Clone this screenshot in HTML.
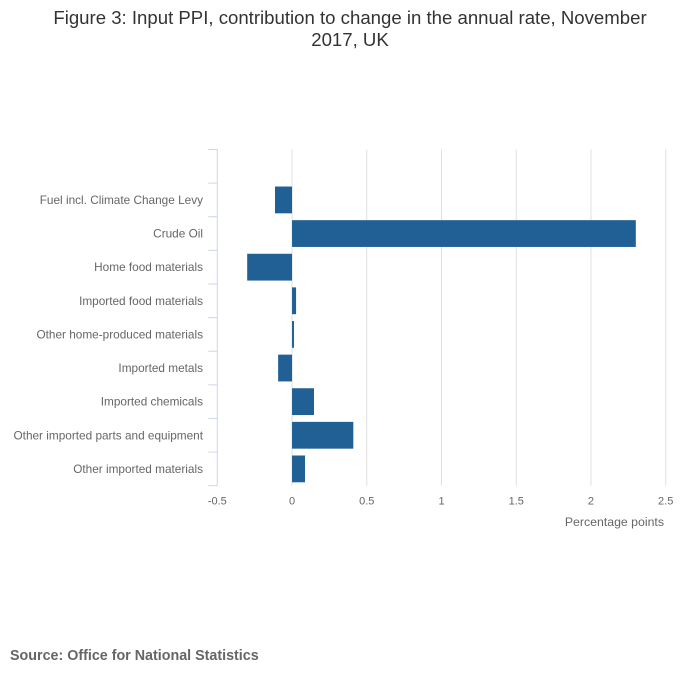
<!DOCTYPE html>
<html><head><meta charset="utf-8"><style>
body{margin:0;background:#fff;font-family:"Liberation Sans",sans-serif;}
</style></head><body>
<svg width="700" height="682" xmlns="http://www.w3.org/2000/svg" font-family="Liberation Sans, sans-serif">
<text x="350" y="24" text-anchor="middle" font-size="18.6" fill="#333">Figure 3: Input PPI, contribution to change in the annual rate, November</text>
<text x="350" y="46" text-anchor="middle" font-size="18.6" fill="#333">2017, UK</text>
<g id="grid"></g><g id="bars"></g><g id="axes"></g>
<text x="664" y="526" text-anchor="end" font-size="12.3" fill="#666">Percentage points</text>
<text x="10" y="660" font-size="14.3" font-weight="bold" fill="#666">Source: Office for National Statistics</text>
</svg>
<script>
const categories=["","Fuel incl. Climate Change Levy","Crude Oil","Home food materials","Imported food materials","Other home-produced materials","Imported metals","Imported chemicals","Other imported parts and equipment","Other imported materials"];
const values=[null,-0.114,2.30,-0.30,0.027,0.013,-0.093,0.147,0.41,0.087];
const xTicks=[-0.5,0,0.5,1,1.5,2,2.5];
const xTickLabels=["-0.5","0","0.5","1","1.5","2","2.5"];
const NS="http://www.w3.org/2000/svg";
const x0=217.3,x1=665.7,yTop=149.5,yBot=485.7;
const xs=v=>x0+(v-(-0.5))/3*(x1-x0);
const band=(yBot-yTop)/categories.length;
function mk(t,a,p){const e=document.createElementNS(NS,t);for(const k in a)e.setAttribute(k,a[k]);p.appendChild(e);return e;}
const g=document.getElementById('grid'),b=document.getElementById('bars'),ax=document.getElementById('axes');
xTicks.forEach((t,i)=>{
 if(i>0){const l=mk('line',{x1:xs(t),x2:xs(t),y1:yTop,y2:yBot,stroke:'#e0e0e0','stroke-width':1},g);
 
 }
 const tx=mk('text',{x:xs(t),y:yBot+19,'text-anchor':'middle','font-size':11,fill:'#666'},ax);tx.textContent=xTickLabels[i];
 
 
});
const al=mk('line',{x1:x0,x2:x0,y1:yTop,y2:yBot,stroke:'#ccd6eb','stroke-width':1},ax);


for(let i=0;i<=categories.length;i++){const y=yTop+i*band;
 const tk=mk('line',{x1:x0-9,x2:x0,y1:y,y2:y,stroke:'#ccd6eb','stroke-width':1},ax);
 
 }
categories.forEach((c,i)=>{
 const yc=yTop+(i+0.5)*band;
 if(c){const t=mk('text',{x:203,y:yc+4,'text-anchor':'end','font-size':11.8,fill:'#666'},ax);t.textContent=c;
 
 }
 const v=values[i];if(v==null)return;
 const xa=Math.min(xs(0),xs(v)),w=Math.abs(xs(v)-xs(0));
 const r=mk('rect',{x:xa,y:yc-13.4,width:Math.max(w,1.5),height:26.8,fill:'#206095'},b);
 
 
});
</script>
</body></html>
